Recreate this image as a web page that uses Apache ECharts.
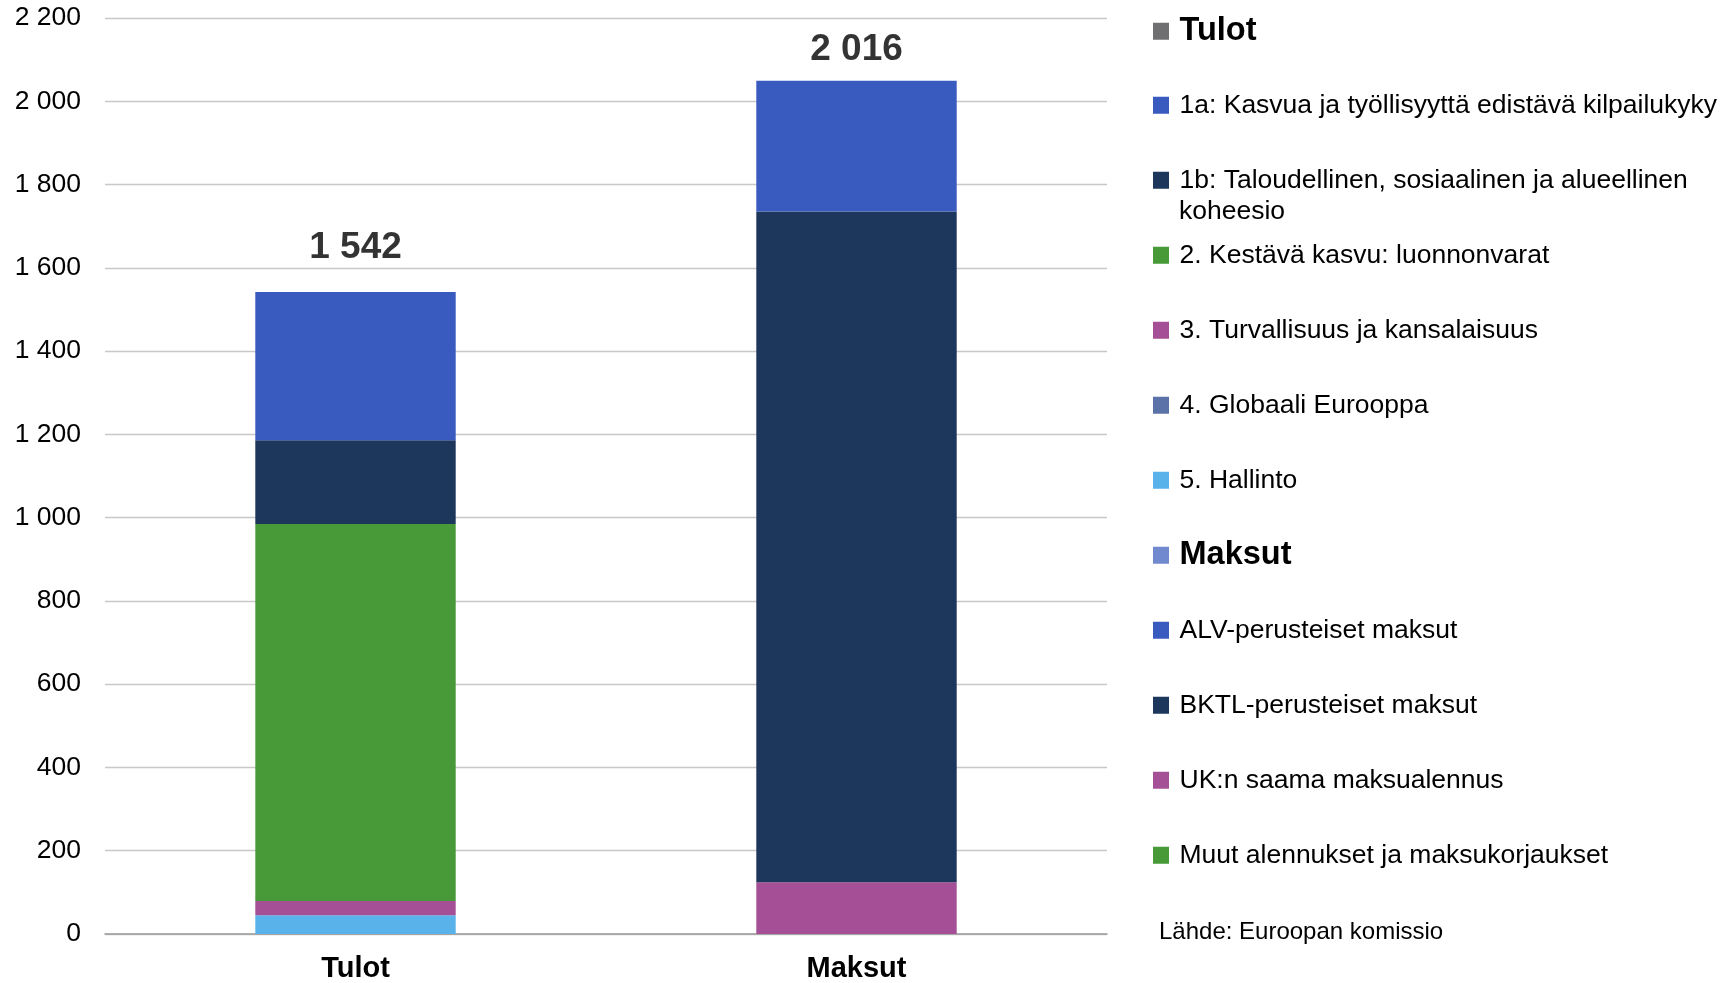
<!DOCTYPE html>
<html>
<head>
<meta charset="utf-8">
<script src="https://cdn.jsdelivr.net/npm/echarts@6/dist/echarts.min.js"></script>
<style>
html,body{margin:0;padding:0;background:#fff;}
#chart{width:1726px;height:983px;}
</style>
</head>
<body>
<div id="chart"></div>
<script>
// ---- Data ----
const categories = ['Tulot', 'Maksut'];
// Tulot segments, bottom to top
const tulotNames = [
  '5. Hallinto',
  '3. Turvallisuus ja kansalaisuus',
  '4. Globaali Eurooppa',
  '2. Kestävä kasvu: luonnonvarat',
  '1b: Taloudellinen, sosiaalinen ja alueellinen koheesio',
  '1a: Kasvua ja työllisyyttä edistävä kilpailukyky'
];
const tulotValues = [45, 34, 0, 906, 201, 356];
// Maksut segments, bottom to top
const maksutNames = [
  'Muut alennukset ja maksukorjaukset',
  'UK:n saama maksualennus',
  'BKTL-perusteiset maksut',
  'ALV-perusteiset maksut'
];
const maksutValues = [-7, 124, 1611, 314];
const totals = [1542, 2016];
const yTicks = [0, 200, 400, 600, 800, 1000, 1200, 1400, 1600, 1800, 2000, 2200];
const legendOrder = [
  'Tulot',
  '1a: Kasvua ja työllisyyttä edistävä kilpailukyky',
  '1b: Taloudellinen, sosiaalinen ja alueellinen koheesio',
  '2. Kestävä kasvu: luonnonvarat',
  '3. Turvallisuus ja kansalaisuus',
  '4. Globaali Eurooppa',
  '5. Hallinto',
  'Maksut',
  'ALV-perusteiset maksut',
  'BKTL-perusteiset maksut',
  'UK:n saama maksualennus',
  'Muut alennukset ja maksukorjaukset'
];
const sourceText = 'Lähde: Euroopan komissio';

// ---- Styles ----
const FONT = '"Liberation Sans", Arial, sans-serif';
const colors = {
  'Tulot': '#6f6f72',
  'Maksut': '#7189cf',
  '5. Hallinto': '#59b3ea',
  '3. Turvallisuus ja kansalaisuus': '#a54f96',
  '4. Globaali Eurooppa': '#5b72a8',
  '2. Kestävä kasvu: luonnonvarat': '#489a38',
  '1b: Taloudellinen, sosiaalinen ja alueellinen koheesio': '#1c365c',
  '1a: Kasvua ja työllisyyttä edistävä kilpailukyky': '#395abe',
  'Muut alennukset ja maksukorjaukset': '#489a38',
  'UK:n saama maksualennus': '#a54f96',
  'BKTL-perusteiset maksut': '#1c365c',
  'ALV-perusteiset maksut': '#395abe'
};
const fmt = v => String(v).replace(/\B(?=(\d{3})+(?!\d))/g, ' ');

const series = [];
tulotNames.forEach((n, i) => {
  series.push({
    name: n, type: 'bar', stack: 'total', barWidth: '40%',
    itemStyle: { color: colors[n] },
    data: [tulotValues[i], '-']
  });
});
maksutNames.forEach((n, i) => {
  series.push({
    name: n, type: 'bar', stack: 'total', barWidth: '40%',
    itemStyle: { color: colors[n] },
    data: ['-', maksutValues[i]]
  });
});
['Tulot', 'Maksut'].forEach(n => {
  series.push({ name: n, type: 'bar', stack: 'total', itemStyle: { color: colors[n] }, data: [] });
});
series.push({
  name: 'Yhteensä', type: 'scatter', symbolSize: 0, silent: true,
  data: totals,
  label: {
    show: true, position: 'top', distance: 26,
    formatter: p => fmt(p.value),
    fontFamily: FONT, fontSize: 37, fontWeight: 'bold', color: '#000'
  }
});

// legend layout: vertical centre of each entry
const legendCenters = [31, 105, 180, 255, 330, 405, 480, 555, 630, 705, 780, 855];
const legends = legendOrder.map((n, i) => {
  const header = (n === 'Tulot' || n === 'Maksut');
  const fs = header ? 32.5 : 26.5;
  return {
    left: 1153, top: legendCenters[i] - fs / 2, padding: 0,
    orient: 'vertical', icon: 'rect', itemWidth: 16, itemHeight: 17,
    selectedMode: false,
    data: [n],
    formatter: name => name.startsWith('1b:') ? '1b: Taloudellinen, sosiaalinen ja alueellinen' : name,
    textStyle: {
      fontFamily: FONT, fontSize: fs, lineHeight: fs,
      fontWeight: header ? 'bold' : 'normal', color: '#000',
      padding: [0, 0, 0, 5.5]
    }
  };
});

const chart = echarts.init(document.getElementById('chart'));
chart.setOption({
  animation: false,
  backgroundColor: '#fff',
  grid: { left: 105, right: 619, top: 18, bottom: 48 },
  xAxis: {
    type: 'category', data: categories,
    axisTick: { show: false },
    axisLine: { lineStyle: { color: '#9a9a9a', width: 1.5 } },
    axisLabel: { fontFamily: FONT, fontSize: 29, fontWeight: 'bold', color: '#000', margin: 20 }
  },
  yAxis: {
    type: 'value', min: yTicks[0], max: yTicks[yTicks.length - 1], interval: 200,
    axisLine: { show: false }, axisTick: { show: false },
    splitLine: { lineStyle: { color: '#c8c8c8', width: 1.3 } },
    axisLabel: { fontFamily: FONT, fontSize: 26.5, color: '#000', margin: 24, formatter: v => fmt(v) }
  },
  legend: legends,
  graphic: [
    { type: 'text', left: 1179, top: 198, style: { text: 'koheesio', font: '26.5px ' + FONT, fill: '#000' } },
    { type: 'text', left: 1159, top: 920, style: { text: sourceText, font: '24px ' + FONT, fill: '#000' } }
  ],
  series: series
});
</script>
</body>
</html>
